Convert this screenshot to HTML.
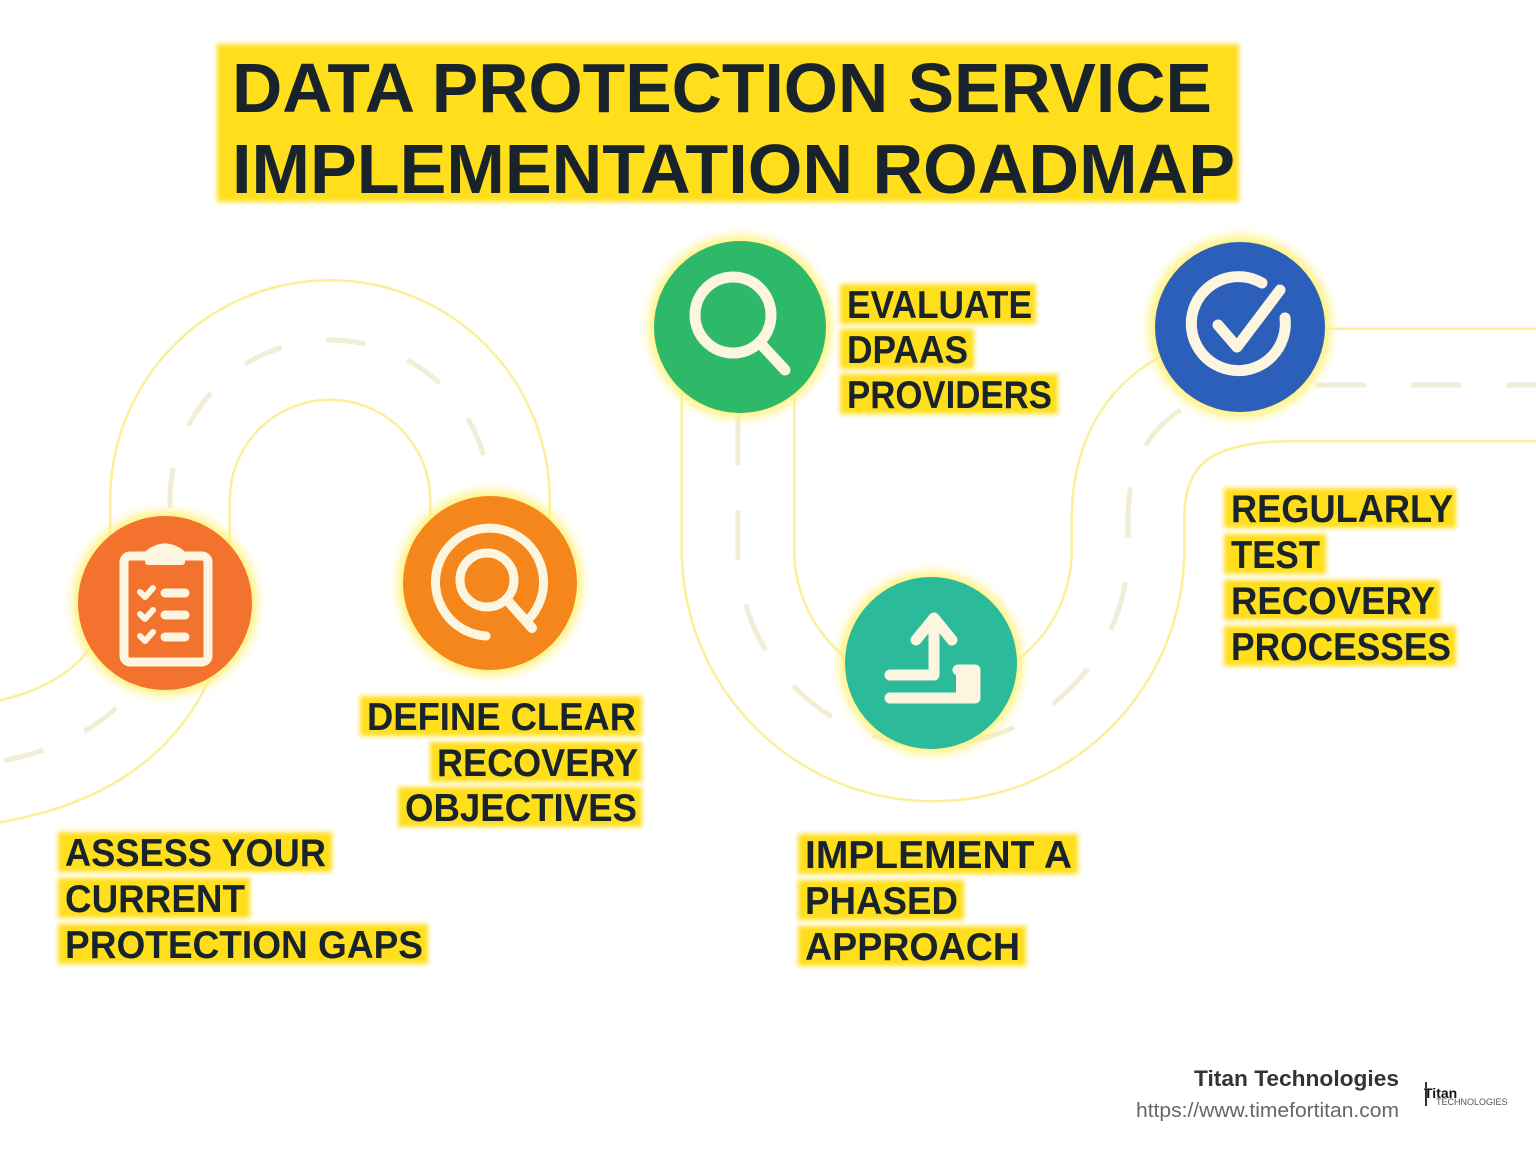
<!DOCTYPE html>
<html><head><meta charset="utf-8"><style>
html,body{margin:0;padding:0;background:#fff;}
svg{display:block;}
</style></head><body>
<svg width="1536" height="1154" viewBox="0 0 1536 1154" xmlns="http://www.w3.org/2000/svg">
<defs>
<filter id="glow" x="-30%" y="-30%" width="160%" height="160%"><feGaussianBlur stdDeviation="5"/></filter>
<filter id="soft" x="-5%" y="-20%" width="110%" height="140%"><feGaussianBlur stdDeviation="2.5"/></filter>
</defs>
<rect width="1536" height="1154" fill="#fff"/>

<g fill="none" stroke-linecap="butt">
  <path d="M-20,765 Q150,740 170,600 L170,500 A160,160 0 0 1 490,500 L490,583" stroke="#fbef9a" stroke-width="122"/>
  <path d="M-20,765 Q150,740 170,600 L170,500 A160,160 0 0 1 490,500 L490,583" stroke="#fff" stroke-width="117"/>
  <path d="M738,325 L738,550 A195,195 0 0 0 1128,550 L1128,520 Q1128,385 1290,385 L1560,385" stroke="#fbef9a" stroke-width="115"/>
  <path d="M738,325 L738,550 A195,195 0 0 0 1128,550 L1128,520 Q1128,385 1290,385 L1560,385" stroke="#fff" stroke-width="110"/>
  <path d="M-20,765 Q150,740 170,600 L170,500 A160,160 0 0 1 490,500 L490,583" stroke="#f1edd6" stroke-width="5" stroke-dasharray="40,45" stroke-dashoffset="-25"/>
  <path d="M738,325 L738,550 A195,195 0 0 0 1128,550 L1128,520 Q1128,385 1290,385 L1560,385" stroke="#f1edd6" stroke-width="5" stroke-dasharray="50,45" stroke-dashoffset="-90"/>
</g>

<rect x="217" y="44" width="1022" height="158" fill="#ffde1f" filter="url(#soft)"/>
<g font-family="Liberation Sans, sans-serif" font-weight="bold" fill="#18232c">
<text x="232" y="112" font-size="70" textLength="980" lengthAdjust="spacingAndGlyphs">DATA PROTECTION SERVICE</text>
<text x="232" y="193" font-size="70" textLength="1003" lengthAdjust="spacingAndGlyphs">IMPLEMENTATION ROADMAP</text>
</g>

<g>
<circle cx="165" cy="603" r="92" fill="#fff27a" filter="url(#glow)"/>
<circle cx="165" cy="603" r="87" fill="#f3722e"/>
<circle cx="490" cy="583" r="92" fill="#fff27a" filter="url(#glow)"/>
<circle cx="490" cy="583" r="87" fill="#f5861b"/>
<circle cx="740" cy="327" r="91" fill="#fff27a" filter="url(#glow)"/>
<circle cx="740" cy="327" r="86" fill="#2db86a"/>
<circle cx="931" cy="663" r="91" fill="#fff27a" filter="url(#glow)"/>
<circle cx="931" cy="663" r="86" fill="#2bbb9a"/>
<circle cx="1240" cy="327" r="91" fill="#fff27a" filter="url(#glow)"/>
<circle cx="1240" cy="327" r="85" fill="#2c5fb9"/>
</g>

<g fill="none" stroke="#fcf5df" stroke-linecap="round" stroke-linejoin="round">
  <rect x="124" y="556" width="84" height="106" rx="6" stroke-width="9"/>
  <path d="M148,562 L148,553 Q165,540 182,553 L182,562 Z" fill="#fcf5df" stroke-width="6"/>
  <path d="M140,592 l5,5 l8,-9 M140,614 l5,5 l8,-9 M140,636 l5,5 l8,-9" stroke-width="6"/>
  <path d="M165,593 h20 M165,615 h20 M165,637 h20" stroke-width="9"/>
  <path d="M528,620 A54,54 0 1 0 486,636" stroke-width="9"/>
  <circle cx="487" cy="580" r="27" stroke-width="9"/>
  <path d="M507,600 L532,628" stroke-width="10"/>
  <circle cx="733" cy="315" r="38" stroke-width="11"/>
  <path d="M760,343 L785,370" stroke-width="11"/>
  <path d="M934,626 L934,675 L890,675" stroke-width="11"/>
  <path d="M916,640 L934,618 L952,640" stroke-width="11"/>
  <path d="M890,698 L975,698 L975,670 L958,670" stroke-width="11"/>
  <rect x="958" y="668" width="18" height="32" fill="#fcf5df" stroke-width="4"/>
  <path d="M1285,318 A47,47 0 1 1 1262,283" stroke-width="11"/>
  <path d="M1218,325 L1237,347 L1280,290" stroke-width="11"/>
</g>

<g fill="#ffde1f" filter="url(#soft)">
  <rect x="840" y="284" width="196" height="40"/>
  <rect x="840" y="329" width="134" height="40"/>
  <rect x="840" y="374" width="218" height="40"/>
  <rect x="1224" y="488" width="232" height="40"/>
  <rect x="1224" y="534" width="102" height="40"/>
  <rect x="1224" y="580" width="216" height="40"/>
  <rect x="1224" y="626" width="232" height="40"/>
  <rect x="360" y="696" width="282" height="40"/>
  <rect x="430" y="742" width="212" height="40"/>
  <rect x="398" y="787" width="244" height="40"/>
  <rect x="58" y="832" width="274" height="40"/>
  <rect x="58" y="878" width="192" height="40"/>
  <rect x="58" y="924" width="370" height="40"/>
  <rect x="798" y="834" width="280" height="40"/>
  <rect x="798" y="880" width="166" height="40"/>
  <rect x="798" y="926" width="228" height="40"/>
</g>
<g font-family="Liberation Sans, sans-serif" font-weight="bold" fill="#18232c" font-size="39">
  <text x="847" y="318" textLength="185" lengthAdjust="spacingAndGlyphs">EVALUATE</text>
  <text x="847" y="363" textLength="121" lengthAdjust="spacingAndGlyphs">DPAAS</text>
  <text x="847" y="408" textLength="205" lengthAdjust="spacingAndGlyphs">PROVIDERS</text>
  <text x="1231" y="522" textLength="222" lengthAdjust="spacingAndGlyphs">REGULARLY</text>
  <text x="1231" y="568" textLength="89" lengthAdjust="spacingAndGlyphs">TEST</text>
  <text x="1231" y="614" textLength="204" lengthAdjust="spacingAndGlyphs">RECOVERY</text>
  <text x="1231" y="660" textLength="220" lengthAdjust="spacingAndGlyphs">PROCESSES</text>
  <text x="367" y="730" textLength="269" lengthAdjust="spacingAndGlyphs">DEFINE CLEAR</text>
  <text x="437" y="776" textLength="201" lengthAdjust="spacingAndGlyphs">RECOVERY</text>
  <text x="405" y="821" textLength="232" lengthAdjust="spacingAndGlyphs">OBJECTIVES</text>
  <text x="65" y="866" textLength="261" lengthAdjust="spacingAndGlyphs">ASSESS YOUR</text>
  <text x="65" y="912" textLength="180" lengthAdjust="spacingAndGlyphs">CURRENT</text>
  <text x="65" y="958" textLength="358" lengthAdjust="spacingAndGlyphs">PROTECTION GAPS</text>
  <text x="805" y="868" textLength="267" lengthAdjust="spacingAndGlyphs">IMPLEMENT A</text>
  <text x="805" y="914" textLength="153" lengthAdjust="spacingAndGlyphs">PHASED</text>
  <text x="805" y="960" textLength="215" lengthAdjust="spacingAndGlyphs">APPROACH</text>
</g>

<g font-family="Liberation Sans, sans-serif">
  <text x="1399" y="1086" font-size="22" font-weight="bold" fill="#333" text-anchor="end" textLength="205" lengthAdjust="spacingAndGlyphs">Titan Technologies</text>
  <text x="1399" y="1117" font-size="20" fill="#666" text-anchor="end" textLength="263" lengthAdjust="spacingAndGlyphs">https://www.timefortitan.com</text>
  <text x="1424" y="1098" font-size="14" font-weight="bold" fill="#111">Titan</text>
  <text x="1436" y="1105" font-size="9" fill="#555">TECHNOLOGIES</text>
  <rect x="1425" y="1082" width="2" height="24" fill="#333"/>
</g>
</svg>
</body></html>
